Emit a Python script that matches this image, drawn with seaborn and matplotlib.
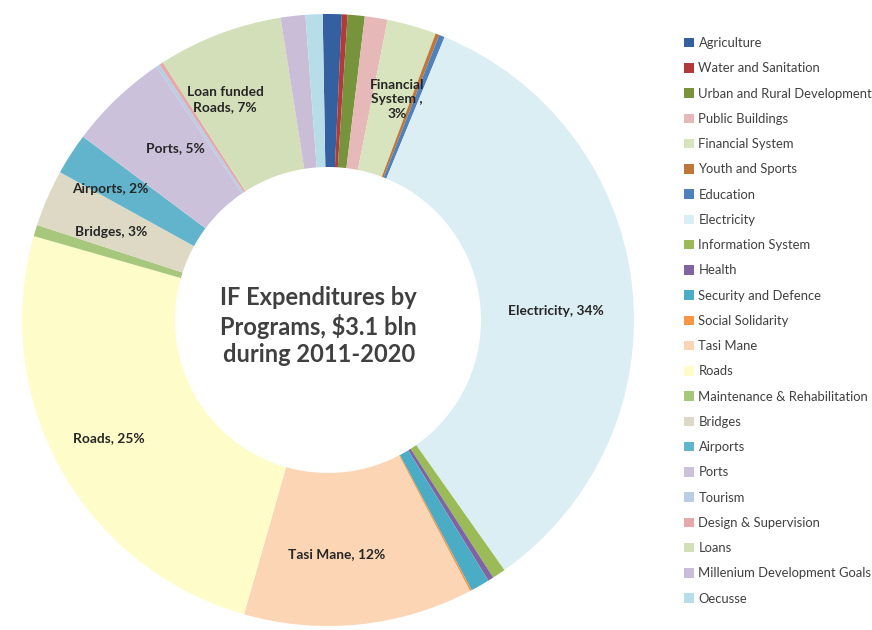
import matplotlib
matplotlib.use("Agg")
import matplotlib.pyplot as plt
from matplotlib.patches import Patch
import numpy as np
import seaborn as sns

# Infrastructure Fund programme shares (% of total spending), clockwise from 12 o'clock
programs = [
    "Agriculture", "Water and Sanitation", "Urban and Rural Development",
    "Public Buildings", "Financial System", "Youth and Sports", "Education",
    "Electricity", "Information System", "Health", "Security and Defence",
    "Social Solidarity", "Tasi Mane", "Roads", "Maintenance & Rehabilitation",
    "Bridges", "Airports", "Ports", "Tourism", "Design & Supervision", "Loans",
    "Millenium Development Goals", "Oecusse",
]
shares = [
    1.0, 0.3, 0.9,
    1.2, 2.6, 0.2, 0.3,
    34.0, 0.7, 0.3, 1.0,
    0.1, 12.1, 25.0, 0.6,
    3.0, 2.2, 5.3, 0.2, 0.2, 6.6,
    1.3, 0.9,
]
colors = [
    "#35609f", "#b23a3a", "#77933c",
    "#e6b9b8", "#d7e4bd", "#c0773a", "#4f81bd",
    "#dbeef4", "#9bbb59", "#8064a2", "#4bacc6",
    "#f79646", "#fcd5b5", "#fefdc9", "#a6c77c",
    "#ddd9c4", "#62b4cc", "#ccc1da", "#b9cde5", "#e6a8a8", "#d3dfb9",
    "#c9bdd8", "#b7dee8",
]
# Slices that carry a data label: text template ({p} = rounded percentage)
label_text = {
    "Financial System": "Financial\nSystem ,\n{p}%",
    "Electricity": "Electricity, {p}%",
    "Tasi Mane": "Tasi Mane, {p}%",
    "Roads": "Roads, {p}%",
    "Bridges": "Bridges, {p}%",
    "Airports": "Airports, {p}%",
    "Ports": "Ports, {p}%",
    "Loans": "Loan funded\nRoads, {p}%",
}
center_title = "IF Expenditures by\nPrograms, $3.1 bln\nduring 2011-2020"

sns.set_theme(style="white")
plt.rcParams["font.family"] = ["Lato", "DejaVu Sans"]
palette = sns.color_palette(colors)

W, H = 872, 630
fig = plt.figure(figsize=(W / 100, H / 100), dpi=100)
fig.patch.set_facecolor("white")

cx, cy, R = 328, 320, 306
ax = fig.add_axes([(cx - R) / W, (H - cy - R) / H, 2 * R / W, 2 * R / H])

total = float(np.sum(shares))
wedges, _ = ax.pie(
    shares, colors=palette, startangle=91, counterclock=False, radius=1.0,
    wedgeprops=dict(width=0.5, edgecolor="none", linewidth=0),
)
ax.set_xlim(-1, 1)
ax.set_ylim(-1, 1)
ax.set_aspect("equal")
ax.axis("off")

# data labels sit near the middle of the ring, nudged a little per slice
cum = np.cumsum([0] + list(shares))
offsets = {"Roads": (-0.06, -0.02), "Bridges": (-0.02, -0.01),
           "Airports": (-0.08, 0.02), "Ports": (0.02, 0.02),
           "Loans": (-0.07, 0.02), "Financial System": (0.02, 0.0),
           "Electricity": (0.0, -0.055), "Tasi Mane": (-0.05, -0.02)}
for i, name in enumerate(programs):
    if name not in label_text:
        continue
    pct = shares[i] / total * 100
    mid = (cum[i] + cum[i + 1]) / 2 / total
    theta = np.deg2rad(91 - mid * 360)
    r = 0.75
    dx, dy = offsets.get(name, (0, 0))
    x, y = r * np.cos(theta) + dx, r * np.sin(theta) + dy
    ax.text(x, y, label_text[name].format(p=f"{pct:.0f}"),
            ha="center", va="center", fontsize=9.9, fontweight="bold",
            color="#262626", linespacing=1.25)

ax.text(-0.03, -0.02, center_title, ha="center", va="center", fontsize=17,
        fontweight="bold", color="#404040", linespacing=1.22)

handles = [Patch(facecolor=c, edgecolor="none") for c in palette]
fig.legend(
    handles, programs, loc="upper left", bbox_to_anchor=(679 / W, 1 - 32 / H),
    frameon=False, fontsize=9.35, labelspacing=1.02, handlelength=0.75,
    handleheight=0.75, handletextpad=0.35, borderaxespad=0, labelcolor="#404040",
)

fig.savefig("out.png", dpi=100, facecolor="white")
